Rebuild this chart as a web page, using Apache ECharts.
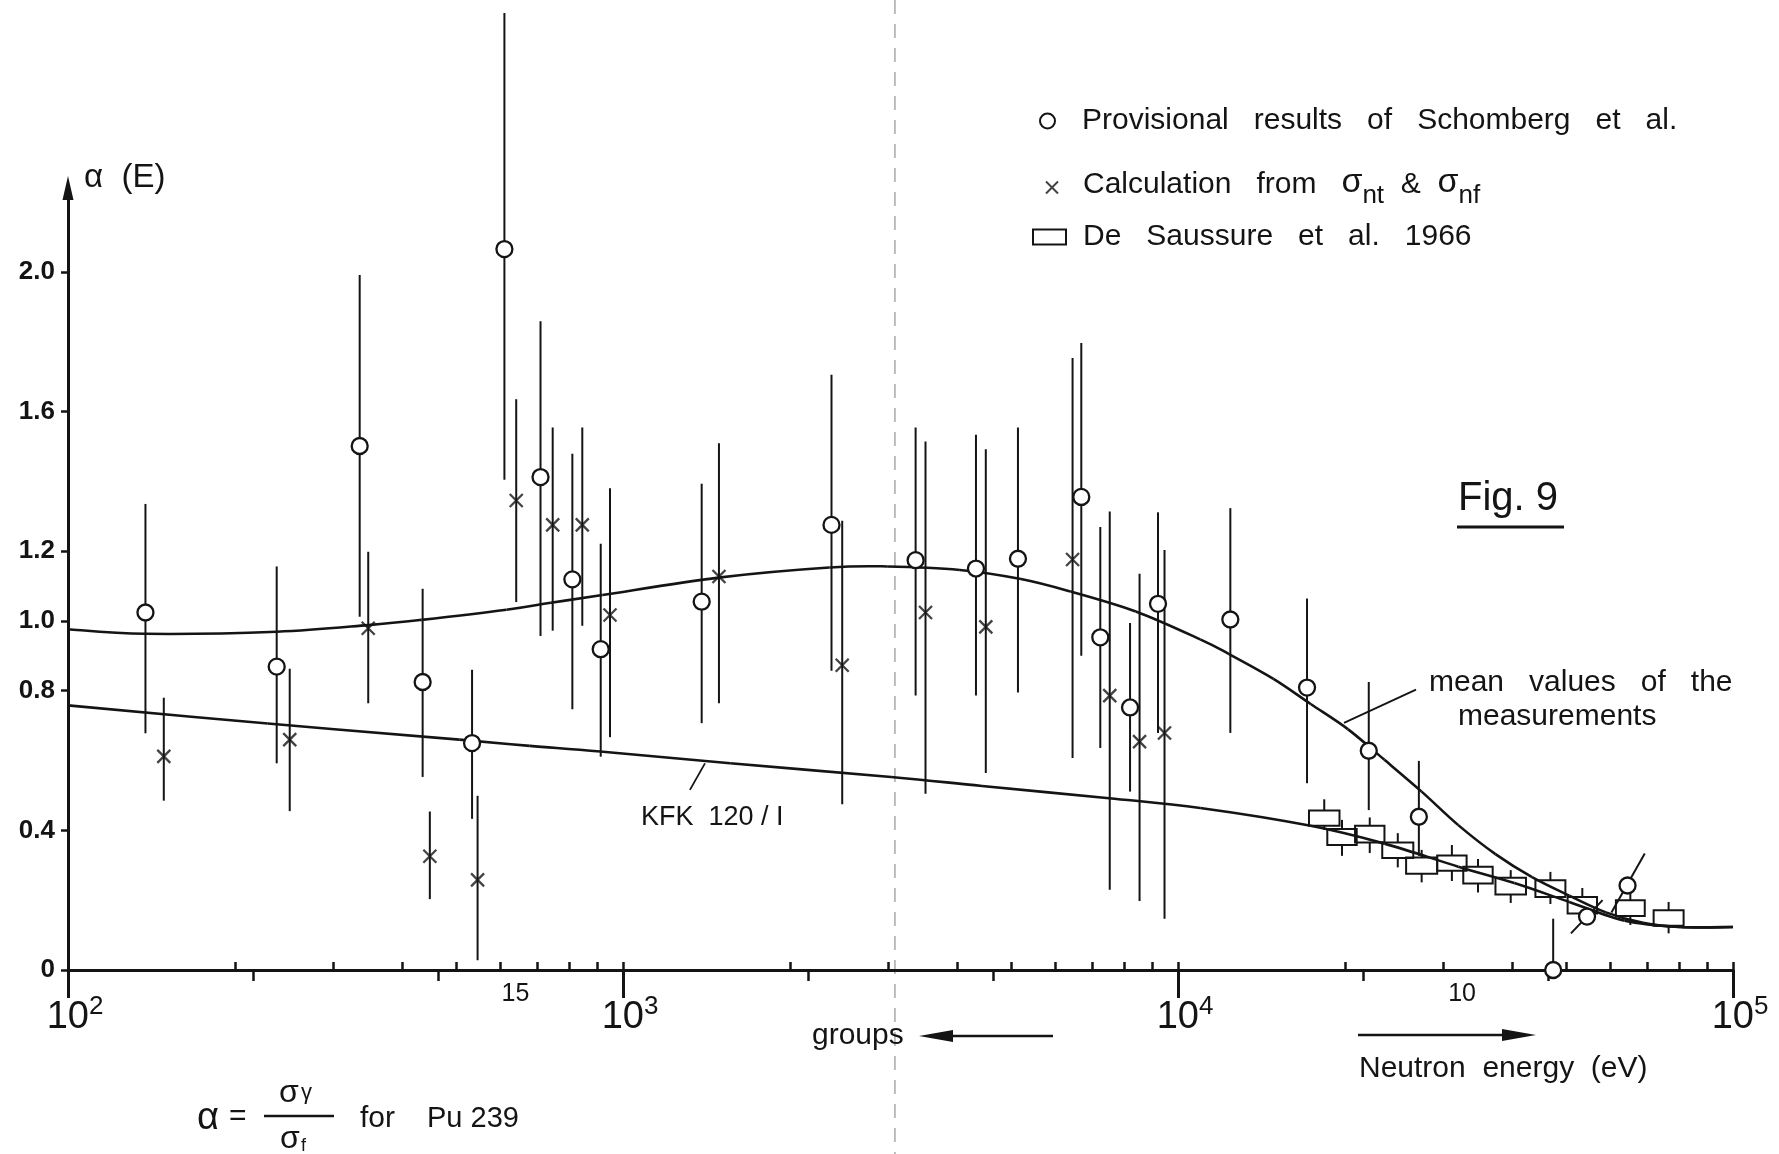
<!DOCTYPE html>
<html>
<head>
<meta charset="utf-8">
<script src="https://cdn.jsdelivr.net/npm/echarts@6/dist/echarts.min.js"></script>
<style>
html,body{margin:0;padding:0;background:#ffffff;}
#c{width:1779px;height:1154px;}
</style>
</head>
<body>
<div id="c"></div>
<script>
// ---------------- DATA ----------------
// Provisional results of Schomberg et al. (circles) : energy (eV), alpha, error bar low/high
const schomE  = [137.9, 237.7, 335.4, 435.5, 534.6, 611.4, 710.2, 810.5, 911.7, 1386, 2375, 3367, 4325, 5148, 6695, 7244, 8196, 9204, 12425, 17080, 22066, 27164, 47424, 54576, 64565];
const schomV  = [1.024, 0.869, 1.501, 0.825, 0.650, 2.065, 1.412, 1.119, 0.919, 1.055, 1.275, 1.174, 1.150, 1.178, 1.355, 0.953, 0.752, 1.049, 1.004, 0.809, 0.628, 0.439, 0.000, 0.153, 0.242];
const schomLo = [0.678, 0.592, 1.012, 0.553, 0.433, 1.404, 0.957, 0.747, 0.611, 0.707, 0.857, 0.786, 0.786, 0.795, 0.900, 0.636, 0.511, 0.679, 0.679, 0.535, 0.458, 0.327, 0.000, null, null];
const schomHi = [1.335, 1.156, 1.991, 1.092, 0.860, 2.741, 1.858, 1.479, 1.221, 1.393, 1.705, 1.554, 1.533, 1.554, 1.796, 1.269, 0.994, 1.311, 1.323, 1.064, 0.825, 0.599, 0.147, null, null];
// slanted bars of the two last circles: start (E,alpha) -> end (E,alpha)
const slantE1 = [51050, 60395];
const slantV1 = [0.105, 0.165];
const slantE2 = [58210, 69340];
const slantV2 = [0.200, 0.334];

// Calculation from sigma_nt & sigma_nf (crosses)
const calcE  = [148.8, 250.9, 347.5, 448.7, 547.0, 642.1, 747, 844.6, 947.5, 1489, 2483, 3508, 4505, 6457, 7534, 8526, 9456];
const calcV  = [0.612, 0.660, 0.979, 0.326, 0.258, 1.345, 1.275, 1.275, 1.017, 1.127, 0.873, 1.024, 0.983, 1.176, 0.786, 0.654, 0.679];
const calcLo = [0.485, 0.455, 0.764, 0.203, 0.028, 1.054, 0.972, 0.986, 0.667, 0.764, 0.475, 0.505, 0.564, 0.607, 0.230, 0.198, 0.147];
const calcHi = [0.780, 0.863, 1.198, 0.454, 0.499, 1.635, 1.554, 1.554, 1.380, 1.509, 1.287, 1.514, 1.492, 1.753, 1.313, 1.135, 1.203];

// De Saussure et al. 1966 (boxes): energy bin, alpha band, error bar
const boxELow  = [17219, 18578, 20845, 23335, 25763, 29309, 32659, 37325, 44055, 50350, 61518, 71945];
const boxEHigh = [19543, 20989, 23550, 26546, 29309, 33113, 36898, 42364, 49888, 56885, 69343, 81470];
const boxVLow  = [0.413, 0.358, 0.365, 0.321, 0.276, 0.284, 0.248, 0.216, 0.209, 0.162, 0.155, 0.127];
const boxVHigh = [0.457, 0.404, 0.413, 0.365, 0.322, 0.328, 0.296, 0.264, 0.257, 0.209, 0.200, 0.171];
const boxErrLo = [0.401, 0.327, 0.335, 0.294, 0.251, 0.255, 0.222, 0.192, 0.189, 0.135, 0.129, 0.105];
const boxErrHi = [0.489, 0.430, 0.437, 0.392, 0.344, 0.358, 0.318, 0.286, 0.281, 0.235, 0.230, 0.195];

// mean values of the measurements (curve)
const meanE = [100, 137.7, 237.7, 347.5, 433.5, 616.6, 741.3, 918.3, 1486, 2355, 2992, 4046, 5212, 6412, 8395, 10965, 12359, 14859, 17338, 20230, 23550, 27479, 31989, 37325, 43451, 50699, 59020, 68865, 80353, 100000];
const meanV = [0.976, 0.963, 0.969, 0.988, 1.003, 1.032, 1.052, 1.074, 1.124, 1.153, 1.156, 1.146, 1.120, 1.084, 1.027, 0.947, 0.905, 0.834, 0.762, 0.690, 0.602, 0.511, 0.415, 0.332, 0.266, 0.213, 0.165, 0.135, 0.123, 0.123];

// KFK 120 / I (curve)
const kfkE = [100, 229.1, 507, 679.2, 909.9, 1560, 3041, 4436, 7516, 10965, 17338, 23550, 31989, 40365, 50699, 63826, 80353, 100000];
const kfkV = [0.758, 0.706, 0.660, 0.642, 0.626, 0.592, 0.553, 0.527, 0.492, 0.464, 0.413, 0.362, 0.296, 0.249, 0.195, 0.141, 0.123, 0.123];

// pointer lines of the curve captions: start (E,alpha) -> end (E,alpha)
const pointerE1 = [26843, 1405];
const pointerV1 = [0.803, 0.592];
const pointerE2 = [19910, 1320];
const pointerV2 = [0.708, 0.516];

// axis ticks / labels
const yTicks = [0, 0.4, 0.8, 1.0, 1.2, 1.6, 2.0];
const decadeTicks = [100, 1000, 10000, 100000];
const minorUpTicks = [100, 200, 300, 400, 500, 600, 700, 800, 900, 1000, 2000, 3000, 4000, 5000, 6000, 7000, 8000, 9000, 10000, 20000, 30000, 40000, 50000, 60000, 70000, 80000, 90000, 100000];
const groupTicks = [215.4, 464.2, 2154, 4642, 21544, 46416];
const groupLabelE = [640, 32500];
const groupLabels = ['15', '10'];
const foldE = 3090;

// ---------------- CHART ----------------
const INK = '#141414';
const FONT = "'Liberation Sans', Arial, sans-serif";
const NAME_S = 'Provisional results of Schomberg et al.';
const NAME_C = 'Calculation from σnt & σnf';
const NAME_B = 'De Saussure et al. 1966';

const schomPts = schomE.map((e, i) => [e, schomV[i]]);
const schomBars = schomE.map((e, i) => [e, schomLo[i], schomHi[i]]).filter(d => d[1] != null);
const slantBars = slantE1.map((e, i) => [e, slantV1[i], slantE2[i], slantV2[i]]);
const pointers = pointerE1.map((e, i) => [e, pointerV1[i], pointerE2[i], pointerV2[i]]);
const calcPts = calcE.map((e, i) => [e, calcV[i]]);
const calcBars = calcE.map((e, i) => [e, calcLo[i], calcHi[i]]);
const boxData = boxELow.map((e, i) => [e, boxEHigh[i], boxVLow[i], boxVHigh[i], boxErrLo[i], boxErrHi[i]]);
const meanPts = meanE.map((e, i) => [e, meanV[i]]);
const kfkPts = kfkE.map((e, i) => [e, kfkV[i]]);

function renderVBar(params, api) {
  const a = api.coord([api.value(0), api.value(1)]);
  const b = api.coord([api.value(0), api.value(2)]);
  return { type: 'line', shape: { x1: a[0], y1: a[1], x2: b[0], y2: b[1] }, style: { stroke: INK, lineWidth: 2 } };
}
function makeSegRenderer(w) {
  return function (params, api) {
    const a = api.coord([api.value(0), api.value(1)]);
    const b = api.coord([api.value(2), api.value(3)]);
    return { type: 'line', shape: { x1: a[0], y1: a[1], x2: b[0], y2: b[1] }, style: { stroke: INK, lineWidth: w } };
  };
}
function renderBox(params, api) {
  const p1 = api.coord([api.value(0), api.value(3)]);
  const p2 = api.coord([api.value(1), api.value(2)]);
  const cx = (p1[0] + p2[0]) / 2;
  const eh = api.coord([api.value(0), api.value(5)])[1];
  const el = api.coord([api.value(0), api.value(4)])[1];
  return {
    type: 'group', children: [
      { type: 'rect', shape: { x: p1[0], y: p1[1], width: p2[0] - p1[0], height: p2[1] - p1[1] }, style: { fill: 'none', stroke: INK, lineWidth: 2 } },
      { type: 'line', shape: { x1: cx, y1: eh, x2: cx, y2: p1[1] }, style: { stroke: INK, lineWidth: 2 } },
      { type: 'line', shape: { x1: cx, y1: p2[1], x2: cx, y2: el }, style: { stroke: INK, lineWidth: 2 } }
    ]
  };
}
// smooth curve through the read points: Catmull-Rom segments in pixel space
function makeCurveRenderer(pts) {
  const n = pts.length;
  return function (params, api) {
    const i = params.dataIndex;
    if (i >= n - 1) return null;
    const P = k => api.coord(pts[Math.max(0, Math.min(n - 1, k))]);
    const p0 = P(i - 1), p1 = P(i), p2 = P(i + 1), p3 = P(i + 2);
    const t = 1 / 6;
    return {
      type: 'bezierCurve',
      shape: {
        x1: p1[0], y1: p1[1], x2: p2[0], y2: p2[1],
        cpx1: p1[0] + (p2[0] - p0[0]) * t, cpy1: p1[1] + (p2[1] - p0[1]) * t,
        cpx2: p2[0] - (p3[0] - p1[0]) * t, cpy2: p2[1] - (p3[1] - p1[1]) * t
      },
      style: { stroke: INK, lineWidth: 2.6, fill: 'none' }
    };
  };
}

const logAxisBase = { type: 'log', logBase: 10, min: 100, max: 100000, gridIndex: 0, position: 'bottom', splitLine: { show: false }, minorTick: { show: false }, minorSplitLine: { show: false } };

const chart = echarts.init(document.getElementById('c'), null, { renderer: 'canvas', width: 1779, height: 1154 });

const option = {
  animation: false,
  backgroundColor: '#ffffff',
  textStyle: { fontFamily: FONT, color: INK },
  grid: { left: 68, right: 46, top: 188, bottom: 184, containLabel: false, outerBoundsMode: 'none' },
  legend: [
    {
      data: [{ name: NAME_S, icon: 'circle', itemStyle: { color: '#ffffff', borderColor: INK, borderWidth: 2 } }],
      left: 1039, top: 106, padding: 0, itemWidth: 15, itemHeight: 15, selectedMode: false,
      formatter: () => 'Provisional   results   of   Schomberg   et   al.',
      textStyle: { fontSize: 30, color: INK, fontFamily: FONT, padding: [0, 0, 0, 22] }
    },
    {
      data: [{ name: NAME_C, icon: 'path://M0,0L10,10M10,0L0,10', itemStyle: { color: 'transparent', borderColor: INK, borderWidth: 2 } }],
      left: 1045, top: 166, padding: 0, itemWidth: 12, itemHeight: 12, selectedMode: false,
      formatter: () => '{t|Calculation   from   }{g|σ}{sub|nt}{t|  &  }{g|σ}{sub|nf}',
      textStyle: {
        color: INK, fontFamily: FONT, padding: [0, 0, 0, 20],
        rich: {
          t: { fontSize: 30, fontFamily: FONT, color: INK, padding: [0, 0, 9, 0], verticalAlign: 'bottom' },
          g: { fontSize: 34, fontFamily: FONT, color: INK, padding: [0, 0, 9, 0], verticalAlign: 'bottom' },
          sub: { fontSize: 26, fontFamily: FONT, color: INK, verticalAlign: 'bottom' }
        }
      }
    },
    {
      data: [{ name: NAME_B, icon: 'rect', itemStyle: { color: 'transparent', borderColor: INK, borderWidth: 2 } }],
      left: 1032, top: 222, padding: 0, itemWidth: 33, itemHeight: 15, selectedMode: false,
      formatter: () => 'De   Saussure   et   al.   1966',
      textStyle: { fontSize: 30, color: INK, fontFamily: FONT, padding: [0, 0, 0, 12] }
    }
  ],
  xAxis: [
    Object.assign({}, logAxisBase, {
      axisLine: { show: true, onZero: false, lineStyle: { color: INK, width: 3 } },
      axisTick: { show: true, customValues: decadeTicks, length: 28, lineStyle: { color: INK, width: 3 } },
      axisLabel: {
        show: true, customValues: decadeTicks, margin: 24, padding: [0, 0, 0, 14],
        formatter: v => '{b|10}{s|' + Math.round(Math.log10(v)) + '}',
        rich: {
          b: { fontSize: 38, fontFamily: FONT, color: INK, verticalAlign: 'bottom' },
          s: { fontSize: 26, fontFamily: FONT, color: INK, padding: [0, 0, 17, 0], verticalAlign: 'bottom' }
        }
      }
    }),
    Object.assign({}, logAxisBase, {
      axisLine: { show: false },
      axisTick: { show: true, inside: true, customValues: minorUpTicks, length: 8, lineStyle: { color: INK, width: 2.5 } },
      axisLabel: { show: false }
    }),
    Object.assign({}, logAxisBase, {
      axisLine: { show: false },
      axisTick: { show: true, inside: false, customValues: groupTicks, length: 11, lineStyle: { color: INK, width: 2.5 } },
      axisLabel: {
        show: true, customValues: groupLabelE, margin: 12, fontSize: 25, fontFamily: FONT, color: INK,
        formatter: v => {
          let best = 0;
          groupLabelE.forEach((e, i) => { if (Math.abs(Math.log(e / v)) < Math.abs(Math.log(groupLabelE[best] / v))) best = i; });
          return groupLabels[best];
        }
      }
    })
  ],
  yAxis: {
    type: 'value', min: 0, max: 2.24,
    axisLine: { show: true, onZero: false, symbol: ['none', 'triangle'], symbolSize: [11, 24], lineStyle: { color: INK, width: 3 } },
    axisTick: { show: true, customValues: yTicks, length: 7, lineStyle: { color: INK, width: 2.5 } },
    axisLabel: {
      customValues: yTicks, margin: 13, fontSize: 26, fontWeight: 'bold', color: INK, fontFamily: FONT,
      formatter: v => (v === 0 ? '0' : v.toFixed(1))
    },
    splitLine: { show: false },
    name: 'α  (E)', nameLocation: 'end', nameGap: 10,
    nameTextStyle: { fontSize: 33, color: INK, fontFamily: FONT, align: 'left', verticalAlign: 'middle', padding: [0, 0, 0, 16] }
  },
  series: [
    {
      name: 'schomBars', type: 'custom', xAxisIndex: 0, yAxisIndex: 0, clip: false, z: 2,
      renderItem: renderVBar, encode: { x: 0, y: [1, 2] }, data: schomBars, silent: true
    },
    {
      name: 'slantBars', type: 'custom', xAxisIndex: 0, yAxisIndex: 0, clip: false, z: 2,
      renderItem: makeSegRenderer(2), encode: { x: [0, 2], y: [1, 3] }, data: slantBars, silent: true
    },
    {
      name: 'calcBars', type: 'custom', xAxisIndex: 0, yAxisIndex: 0, clip: false, z: 2,
      renderItem: renderVBar, encode: { x: 0, y: [1, 2] }, data: calcBars, silent: true
    },
    {
      name: 'mean values of the measurements', type: 'custom', xAxisIndex: 0, yAxisIndex: 0, clip: false, z: 3,
      renderItem: makeCurveRenderer(meanPts), encode: { x: 0, y: 1 }, data: meanPts, silent: true
    },
    {
      name: 'KFK 120 / I', type: 'custom', xAxisIndex: 0, yAxisIndex: 0, clip: false, z: 3,
      renderItem: makeCurveRenderer(kfkPts), encode: { x: 0, y: 1 }, data: kfkPts, silent: true
    },
    {
      name: 'pointers', type: 'custom', xAxisIndex: 0, yAxisIndex: 0, clip: false, z: 3,
      renderItem: makeSegRenderer(1.8), encode: { x: [0, 2], y: [1, 3] }, data: pointers, silent: true
    },
    {
      name: NAME_B, type: 'custom', xAxisIndex: 0, yAxisIndex: 0, clip: false, z: 4,
      renderItem: renderBox, encode: { x: [0, 1], y: [2, 3] }, data: boxData,
      itemStyle: { color: 'transparent', borderColor: INK }
    },
    {
      name: NAME_C, type: 'scatter', xAxisIndex: 0, yAxisIndex: 0, z: 5,
      data: calcPts, symbol: 'path://M0,0L10,10M10,0L0,10', symbolSize: 13,
      itemStyle: { color: 'transparent', borderColor: INK, borderWidth: 2.3 }
    },
    {
      name: NAME_S, type: 'scatter', xAxisIndex: 0, yAxisIndex: 0, z: 6,
      data: schomPts, symbol: 'circle', symbolSize: 16,
      itemStyle: { color: '#ffffff', borderColor: INK, borderWidth: 2.3, opacity: 1 }
    }
  ]
};
chart.setOption(option);

// annotations (text, arrows, fold line)
const foldX = chart.convertToPixel({ xAxisIndex: 0 }, foldE);
function txt(text, x, y, size, extra) {
  return Object.assign({ type: 'text', x: x, y: y, z: 10, style: { text: text, font: size + 'px ' + FONT, fill: INK, align: 'left', verticalAlign: 'middle' } }, extra || {});
}
chart.setOption({
  graphic: [
    { type: 'line', z: -1, shape: { x1: foldX, y1: 0, x2: foldX, y2: 1154 }, style: { stroke: '#a8a8a8', lineWidth: 1.5, lineDash: [14, 10] } },
    txt('Fig. 9', 1458, 499, 40),
    { type: 'line', z: 10, shape: { x1: 1457, y1: 527, x2: 1564, y2: 527 }, style: { stroke: INK, lineWidth: 3 } },
    txt('mean   values   of   the', 1429, 683, 30),
    txt('measurements', 1458, 717, 30),
    txt('KFK  120 / I', 641, 818, 27),
    txt('groups', 812, 1036, 30),
    { type: 'line', z: 10, shape: { x1: 945, y1: 1036, x2: 1053, y2: 1036 }, style: { stroke: INK, lineWidth: 2.5 } },
    { type: 'polygon', z: 10, shape: { points: [[919, 1036], [953, 1030], [953, 1042]] }, style: { fill: INK } },
    { type: 'line', z: 10, shape: { x1: 1358, y1: 1035, x2: 1510, y2: 1035 }, style: { stroke: INK, lineWidth: 2.5 } },
    { type: 'polygon', z: 10, shape: { points: [[1536, 1035], [1502, 1029], [1502, 1041]] }, style: { fill: INK } },
    txt('Neutron  energy  (eV)', 1359, 1069, 30),
    txt('α', 197, 1119, 38),
    txt('=', 229, 1117, 30),
    txt('σ', 279, 1093, 32),
    txt('γ', 301, 1093, 22),
    { type: 'line', z: 10, shape: { x1: 264, y1: 1116, x2: 334, y2: 1116 }, style: { stroke: INK, lineWidth: 2.5 } },
    txt('σ', 280, 1139, 32),
    txt('f', 301, 1146, 18),
    txt('for', 360, 1119, 30),
    txt('Pu 239', 427, 1119, 29)
  ]
});
</script>
</body>
</html>
